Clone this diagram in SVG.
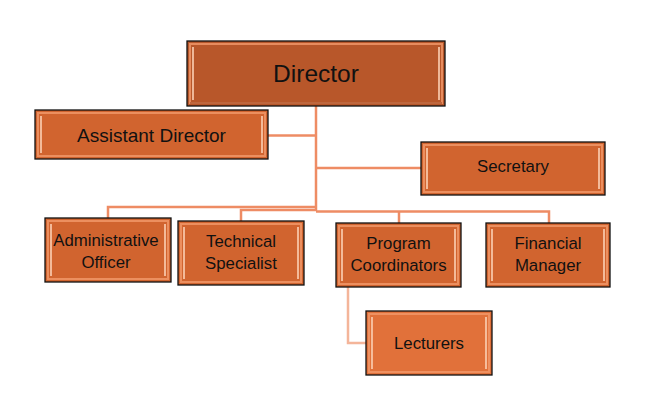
<svg xmlns="http://www.w3.org/2000/svg" width="645" height="399" viewBox="0 0 645 399">
<style>
.box{stroke:#111;stroke-width:1.3;}
.c1{fill:#B8572A;}
.c2{fill:#D1642F;}
.c3{fill:#E1713A;}
.bev{fill:none;stroke:#F29A6C;stroke-width:2;opacity:0.8;}
.hl{stroke:#FCD0B4;stroke-width:1.6;fill:none;}
.sh{stroke:#8A3A18;stroke-width:1.5;fill:none;opacity:0.6;}
.t{font-family:"Liberation Sans",Arial,sans-serif;fill:#111;text-anchor:middle;font-size:16.8px;}
.conn{stroke:#EE8C64;stroke-width:2.5;fill:none;}
.conn2{stroke:#F4B59A;stroke-width:2.5;fill:none;}
</style>
<rect width="645" height="399" fill="#ffffff"/>
<g id="connectors">
<path class="conn" d="M316 105 V211"/>
<path class="conn" d="M268 135.5 H316"/>
<path class="conn" d="M316 168 H421"/>
<path class="conn" d="M316 207 H108 V218"/>
<path class="conn" d="M316 210 H241 V221"/>
<path class="conn" d="M316 211.5 H549 V223"/>
<path class="conn" d="M399 211.5 V223"/>
<path class="conn2" d="M348 287 V343 H366"/>
</g>
<g id="director">
<rect class="box c1" x="187" y="41" width="258" height="65"/>
<rect class="bev" x="190" y="44" width="252" height="59"/>
<path class="hl" d="M193 47 V100 M439 47 V100"/>
<path class="sh" d="M190 103 H442"/>
<text class="t" x="316" y="82" style="font-size:24.5px">Director</text>
</g>
<g id="assistant-director">
<rect class="box c2" x="35" y="110" width="233" height="49"/>
<rect class="bev" x="38" y="113" width="227" height="43"/>
<path class="hl" d="M41 116 V153 M262 116 V153"/>
<text class="t" x="151.5" y="141.5" style="font-size:19px">Assistant Director</text>
</g>
<g id="secretary">
<rect class="box c2" x="421" y="142" width="184" height="53"/>
<rect class="bev" x="424" y="145" width="178" height="47"/>
<path class="hl" d="M427 148 V189 M599 148 V189"/>
<text class="t" x="513" y="172">Secretary</text>
</g>
<g id="administrative-officer">
<rect class="box c2" x="45" y="218" width="126" height="64"/>
<rect class="bev" x="48" y="221" width="120" height="58"/>
<path class="hl" d="M51 224 V276 M165 224 V276"/>
<text class="t" x="106" y="246">Administrative</text>
<text class="t" x="106" y="268">Officer</text>
</g>
<g id="technical-specialist">
<rect class="box c2" x="178" y="221" width="126" height="64"/>
<rect class="bev" x="181" y="224" width="120" height="58"/>
<path class="hl" d="M184 227 V279 M298 227 V279"/>
<text class="t" x="241" y="247">Technical</text>
<text class="t" x="241" y="269">Specialist</text>
</g>
<g id="program-coordinators">
<rect class="box c2" x="336" y="223" width="125" height="64"/>
<rect class="bev" x="339" y="226" width="119" height="58"/>
<path class="hl" d="M342 229 V281 M455 229 V281"/>
<text class="t" x="398.5" y="249">Program</text>
<text class="t" x="398.5" y="271">Coordinators</text>
</g>
<g id="financial-manager">
<rect class="box c2" x="486" y="223" width="124" height="64"/>
<rect class="bev" x="489" y="226" width="118" height="58"/>
<path class="hl" d="M492 229 V281 M604 229 V281"/>
<text class="t" x="548" y="249">Financial</text>
<text class="t" x="548" y="271">Manager</text>
</g>
<g id="lecturers">
<rect class="box c3" x="366" y="311" width="126" height="64"/>
<rect class="bev" x="369" y="314" width="120" height="58"/>
<path class="hl" d="M372 317 V369 M486 317 V369"/>
<text class="t" x="429" y="349">Lecturers</text>
</g>
</svg>
